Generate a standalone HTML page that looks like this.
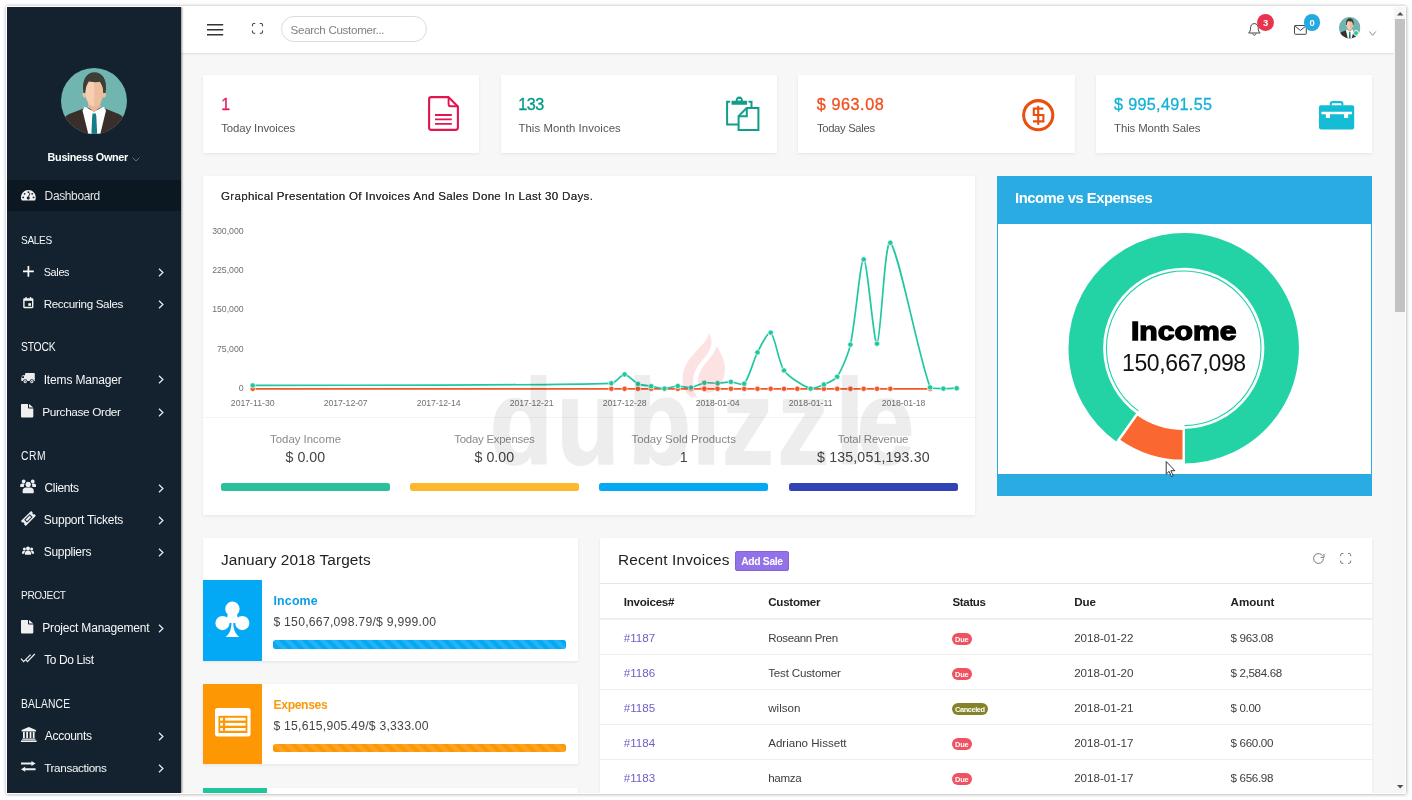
<!DOCTYPE html>
<html lang="en">
<head>
<meta charset="utf-8">
<title>Dashboard</title>
<style>
*{box-sizing:border-box;margin:0;padding:0}
html,body{width:1412px;height:800px;overflow:hidden;background:#fff}
body{font-family:"Liberation Sans",sans-serif;color:#333;position:relative}
#shadow{position:absolute;left:7px;top:7px;width:1398px;height:786px;box-shadow:0 0 0 1px #fff,0 .800px 3.500px 1.500px rgba(0,0,0,.38)}
#frame{position:absolute;left:7px;top:7px;width:1398px;height:786px;background:#f7f7f7;overflow:hidden;will-change:transform}
#o{position:absolute;left:-7px;top:-7px;width:1412px;height:800px}
.t{position:absolute;white-space:pre;display:block}
svg{position:absolute;overflow:visible}
.abs{position:absolute}
h1,h2,h3,h4,h5,h6,th{font-weight:400}
#side{position:absolute;left:7px;top:7px;width:174px;height:786px;background:#13222e;box-shadow:1px 0 2px rgba(0,0,0,.45);z-index:5}
#side .active{position:absolute;left:0;top:173.300px;width:174px;height:31.200px;background:#0c1821}
#top{position:absolute;left:181px;top:7px;width:1213px;height:46px;background:#fff;box-shadow:0 1px 2px rgba(0,0,0,.10);z-index:4}
#sb{position:absolute;left:1394px;top:7px;width:11px;height:786px;background:#f6f6f6;z-index:6}
#sb .thumb{position:absolute;left:1.200px;top:12px;width:9.600px;height:292.800px;background:#c2c2c2}
.card{position:absolute;background:#fff;box-shadow:0 1px 3px rgba(0,0,0,.08)}
</style>
</head>
<body>
<div id="shadow"></div>
<div id="frame"><div id="o">


<!-- SIDEBAR -->
<aside id="side"><div class="active"></div></aside>
<nav class="abs" style="left:0;top:0;z-index:6">

<svg style="left:61px;top:67.6px" width="66" height="66" viewBox="0 0 66 66">
 <defs><clipPath id="avc"><circle cx="33" cy="33" r="33"/></clipPath></defs>
 <g clip-path="url(#avc)">
  <rect width="66" height="66" fill="#70b5b0"/>
  <path d="M3 66V53C3 49 6 47 9.500 45.600L22.500 40.500H44L56.500 45.600C60 47 63 49 63 53V66z" fill="#3a2e2a"/>
  <path d="M23.500 38.800L33 43.500L42.800 38.800L45 42.500L39.300 66H27.300L21.500 42.500z" fill="#fdfdfd"/>
  <path d="M27 30h12.500v8.500L33 44.500L27 38.500z" fill="#e9b795"/>
  <path d="M22.500 24a2 3 0 1 0 3 3zM44 24a2 3 0 1 1-3 3z" fill="#ecc0a0"/>
  <path d="M22.500 25C20.800 12.500 25 4.500 33.500 4.500S46.300 12.500 44.500 25z" fill="#3d3e38"/>
  <ellipse cx="33.200" cy="24.600" rx="8.900" ry="13.600" fill="#f6cfb3"/>
  <path d="M33.200 11c4.900 0 8.900 6.100 8.900 13.600s-4 13.600-8.900 13.600z" fill="#eebd9d"/>
  <path d="M22.500 25C20.800 12.500 25 4.500 33.500 4.500S46.300 12.500 44.500 25C44 19.500 43 15.500 41 13.200C36 14.800 29.500 14.300 25.800 12.600C23.800 15.300 23 19.500 22.500 25z" fill="#3d3e38"/>
  <path d="M31.600 45.600h3.200l.5 2.600L36.200 66h-5.800l.8-17.800z" fill="#157f89"/>
 </g>
</svg>
<span class="t" style="left:47.60px;top:150.00px;font-size:10.83px;line-height:14px;color:#fff;font-weight:700;letter-spacing:-0.325px;">Business Owner</span>
<svg style="left:132.4px;top:156.6px" width="8" height="5" viewBox="0 0 8 5"><path d="M0.600 0.600L4 4L7.400 0.600" fill="none" stroke="#5f7486" stroke-width="1"/></svg>
<a><span class="t" style="left:44.60px;top:188.00px;font-size:11.97px;line-height:16px;color:#dfe4e8;letter-spacing:-0.359px;">Dashboard</span></a>
<a><span class="t" style="left:43.70px;top:265.00px;font-size:10.87px;line-height:14px;color:#f7f8f9;letter-spacing:-0.326px;">Sales</span></a><svg style="left:158.2px;top:267.6px" width="6" height="9" viewBox="0 0 6 9"><path d="M1 0.8 L4.9 4.5 L1 8.2" fill="none" stroke="#e8ecef" stroke-width="1.25"/></svg>
<a><span class="t" style="left:43.70px;top:296.00px;font-size:11.62px;line-height:15px;color:#f7f8f9;letter-spacing:-0.351px;">Reccuring Sales</span></a><svg style="left:158.2px;top:299.9px" width="6" height="9" viewBox="0 0 6 9"><path d="M1 0.8 L4.9 4.5 L1 8.2" fill="none" stroke="#e8ecef" stroke-width="1.25"/></svg>
<a><span class="t" style="left:43.70px;top:372.00px;font-size:12.0px;line-height:16px;color:#f7f8f9;letter-spacing:-0.162px;">Items Manager</span></a><svg style="left:158.2px;top:375.4px" width="6" height="9" viewBox="0 0 6 9"><path d="M1 0.8 L4.9 4.5 L1 8.2" fill="none" stroke="#e8ecef" stroke-width="1.25"/></svg>
<a><span class="t" style="left:42.30px;top:405.00px;font-size:11.8px;line-height:15px;color:#f7f8f9;letter-spacing:-0.353px;">Purchase Order</span></a><svg style="left:158.2px;top:407.5px" width="6" height="9" viewBox="0 0 6 9"><path d="M1 0.8 L4.9 4.5 L1 8.2" fill="none" stroke="#e8ecef" stroke-width="1.25"/></svg>
<a><span class="t" style="left:44.60px;top:480.00px;font-size:11.96px;line-height:16px;color:#f7f8f9;letter-spacing:-0.361px;">Clients</span></a><svg style="left:158.2px;top:483.5px" width="6" height="9" viewBox="0 0 6 9"><path d="M1 0.8 L4.9 4.5 L1 8.2" fill="none" stroke="#e8ecef" stroke-width="1.25"/></svg>
<a><span class="t" style="left:43.70px;top:512.00px;font-size:12.0px;line-height:16px;color:#f7f8f9;letter-spacing:-0.216px;">Support Tickets</span></a><svg style="left:158.2px;top:515.7px" width="6" height="9" viewBox="0 0 6 9"><path d="M1 0.8 L4.9 4.5 L1 8.2" fill="none" stroke="#e8ecef" stroke-width="1.25"/></svg>
<a><span class="t" style="left:43.70px;top:544.00px;font-size:12.0px;line-height:16px;color:#f7f8f9;letter-spacing:-0.291px;">Suppliers</span></a><svg style="left:158.2px;top:547.9px" width="6" height="9" viewBox="0 0 6 9"><path d="M1 0.8 L4.9 4.5 L1 8.2" fill="none" stroke="#e8ecef" stroke-width="1.25"/></svg>
<a><span class="t" style="left:42.30px;top:620.00px;font-size:12.0px;line-height:16px;color:#f7f8f9;letter-spacing:-0.202px;">Project Management</span></a><svg style="left:158.2px;top:623.5px" width="6" height="9" viewBox="0 0 6 9"><path d="M1 0.8 L4.9 4.5 L1 8.2" fill="none" stroke="#e8ecef" stroke-width="1.25"/></svg>
<a><span class="t" style="left:44.20px;top:652.00px;font-size:11.95px;line-height:16px;color:#f7f8f9;letter-spacing:-0.360px;">To Do List</span></a>
<a><span class="t" style="left:44.80px;top:728.00px;font-size:12.0px;line-height:16px;color:#f7f8f9;letter-spacing:-0.308px;">Accounts</span></a><svg style="left:158.2px;top:731.7px" width="6" height="9" viewBox="0 0 6 9"><path d="M1 0.8 L4.9 4.5 L1 8.2" fill="none" stroke="#e8ecef" stroke-width="1.25"/></svg>
<a><span class="t" style="left:44.20px;top:760.00px;font-size:11.7px;line-height:15px;color:#f7f8f9;letter-spacing:-0.349px;">Transactions</span></a><svg style="left:158.2px;top:763.7px" width="6" height="9" viewBox="0 0 6 9"><path d="M1 0.8 L4.9 4.5 L1 8.2" fill="none" stroke="#e8ecef" stroke-width="1.25"/></svg>
<h6 class="t" style="left:21.00px;top:232.00px;font-size:11.64px;line-height:15px;color:#f4f6f7;letter-spacing:-0.411px;transform:scaleX(0.87);transform-origin:0 50%;">SALES</h6>
<h6 class="t" style="left:21.00px;top:340.00px;font-size:11.9px;line-height:15px;color:#f4f6f7;letter-spacing:-0.245px;transform:scaleX(0.87);transform-origin:0 50%;">STOCK</h6>
<h6 class="t" style="left:21.00px;top:449.00px;font-size:11.9px;line-height:15px;color:#f4f6f7;letter-spacing:0.591px;transform:scaleX(0.87);transform-origin:0 50%;">CRM</h6>
<h6 class="t" style="left:21.00px;top:587.00px;font-size:11.61px;line-height:15px;color:#f4f6f7;letter-spacing:-0.404px;transform:scaleX(0.87);transform-origin:0 50%;">PROJECT</h6>
<h6 class="t" style="left:21.20px;top:697.00px;font-size:11.9px;line-height:15px;color:#f4f6f7;letter-spacing:0.154px;transform:scaleX(0.87);transform-origin:0 50%;">BALANCE</h6>

<!-- dashboard (tachometer) -->
<svg style="left:20.6px;top:190.3px" width="14.8" height="10.4" viewBox="0 0 148 104">
 <path d="M74 0C33 0 0 33 0 74c0 9 2 18 5 26c1 3 4 4 7 4h124c3 0 6-1 7-4c3-8 5-17 5-26C148 33 115 0 74 0z" fill="#f1f1f1"/>
 <g fill="#13202b"><circle cx="74" cy="22" r="9"/><circle cx="36" cy="38" r="9"/><circle cx="112" cy="38" r="9"/><circle cx="22" cy="74" r="9"/><circle cx="126" cy="74" r="9"/>
 <path d="M85 28l8 3l-12 36c6 4 8 11 6 17c-2 8-11 12-19 10c-8-3-12-11-10-19c2-7 8-11 15-11z"/></g>
</svg>
<!-- plus -->
<svg style="left:22.6px;top:265.6px" width="10.8" height="10.8" viewBox="0 0 108 108"><path d="M54 0v108M0 54h108" stroke="#fff" stroke-width="17" fill="none"/></svg>
<!-- calendar -->
<svg style="left:22.7px;top:297.3px" width="10.6" height="11.4" viewBox="0 0 106 114">
 <path d="M14 12h78c7 0 12 5 12 12v76c0 7-5 12-12 12H14c-7 0-12-5-12-12V24c0-7 5-12 12-12z" fill="#f4f4f4"/>
 <rect x="24" y="0" width="13" height="22" fill="#f4f4f4"/><rect x="69" y="0" width="13" height="22" fill="#f4f4f4"/>
 <rect x="16" y="38" width="74" height="60" fill="#13222e"/>
 <rect x="53" y="62" width="27" height="26" fill="#f4f4f4"/>
</svg>
<!-- truck -->
<svg style="left:21.200px;top:373.200px" width="14" height="10.600" viewBox="0 0 140 106">
 <g fill="#e9ebf0"><rect x="40" y="0" width="98" height="80" rx="5"/>
 <path d="M18 22h22v58H3V50c0-3 1-5 2-7l8-17c1-2 3-4 5-4z"/></g>
 <path d="M13 32h17v17H7z" fill="#13222e"/>
 <circle cx="42" cy="86" r="23" fill="#13222e"/><circle cx="108" cy="86" r="23" fill="#13222e"/>
 <circle cx="42" cy="86" r="16" fill="#e9ebf0"/><circle cx="108" cy="86" r="16" fill="#e9ebf0"/>
 <circle cx="42" cy="86" r="6" fill="#13222e"/><circle cx="108" cy="86" r="6" fill="#13222e"/>
</svg>
<!-- file (purchase order) -->
<svg style="left:20.9px;top:403.7px" width="12.3" height="13.4" viewBox="0 0 123 134"><path d="M8 0h62v38c0 5 3 8 8 8h45v80c0 5-3 8-8 8H8c-5 0-8-3-8-8V8c0-5 3-8 8-8z M80 0l43 36H84c-2 0-4-2-4-4z" fill="#f0f0f0"/></svg>
<!-- users -->
<svg style="left:20.400px;top:479px" width="16.200" height="14.200" viewBox="0 0 162 142">
 <g fill="#eceef2"><circle cx="37" cy="24" r="19"/><circle cx="127" cy="24" r="19"/>
 <path d="M2 80V66c0-12 8-20 20-20h14c4 0 8 1 11 3c-7 8-10 18-9 31z"/><path d="M160 80V66c0-12-8-20-20-20h-14c-4 0-8 1-11 3c7 8 10 18 9 31z"/></g>
 <circle cx="82" cy="54" r="33" fill="#13222e"/>
 <g fill="#eceef2"><circle cx="82" cy="54" r="26"/>
 <path d="M36 142c-6 0-10-4-10-10v-12c0-22 14-36 34-36h44c20 0 34 14 34 36v12c0 6-4 10-10 10z"/></g>
</svg>
<!-- ticket -->
<svg style="left:20.600px;top:511.200px" width="14.800" height="14.800" viewBox="0 0 148 148">
 <g transform="rotate(-45 74 74)"><path d="M2 40h144v24c-6 0-10 5-10 10s4 10 10 10v24H2V84c6 0 10-5 10-10s-4-10-10-10z" fill="#eceef2"/>
 <rect x="34" y="54" width="80" height="40" rx="4" fill="#13222e"/><rect x="44" y="63" width="60" height="22" fill="#eceef2"/></g>
</svg>
<!-- suppliers (small group) -->
<svg style="left:22px;top:546.2px" width="12" height="8.8" viewBox="0 0 120 88">
 <g fill="#f1f1f1"><circle cx="60" cy="24" r="20"/><circle cx="24" cy="30" r="15"/><circle cx="96" cy="30" r="15"/>
 <path d="M30 88V70c0-14 12-24 30-24s30 10 30 24v18z"/><path d="M0 78V66c0-10 8-18 24-18c3 0 6 0 8 1c-6 5-8 12-8 21v8z"/><path d="M120 78V66c0-10-8-18-24-18c-3 0-6 0-8 1c6 5 8 12 8 21v8z"/></g>
</svg>
<!-- file (project) -->
<svg style="left:20.9px;top:619.6px" width="12.3" height="13.4" viewBox="0 0 123 134"><path d="M8 0h62v38c0 5 3 8 8 8h45v80c0 5-3 8-8 8H8c-5 0-8-3-8-8V8c0-5 3-8 8-8z M80 0l43 36H84c-2 0-4-2-4-4z" fill="#f0f0f0"/></svg>
<!-- double check -->
<svg style="left:21.200px;top:654.400px" width="14" height="9.400" viewBox="0 0 140 94"><path d="M0 46L26 76L96 6M44 52L64 76L138 0" stroke="#eceef2" stroke-width="12" fill="none"/></svg>
<!-- bank -->
<svg style="left:20.8px;top:726.6px" width="15.6" height="15" viewBox="0 0 156 150">
 <g fill="#f1f1f1"><path d="M78 0L150 30v14H6V30z"/><rect x="20" y="50" width="18" height="62"/><rect x="52" y="50" width="18" height="62"/><rect x="86" y="50" width="18" height="62"/><rect x="118" y="50" width="18" height="62"/>
 <rect x="12" y="116" width="132" height="12"/><rect x="0" y="134" width="156" height="16"/></g>
</svg>
<!-- exchange -->
<svg style="left:20.800px;top:761.200px" width="14.600" height="10.800" viewBox="0 0 146 108"><g fill="#eceef2"><path d="M0 15h104V0l42 25l-42 25V35H0z"/><path d="M146 73H42V58L0 83l42 25V93h104z"/></g></svg>

</nav>


<!-- TOP BAR -->
<header id="top"></header>
<div class="abs" style="left:0;top:0;z-index:7">
<svg style="left:206.6px;top:23.9px" width="16.2" height="11.6" viewBox="0 0 162 116"><path d="M0 8h162M0 58h162M0 108h162" stroke="#333" stroke-width="14" fill="none"/></svg>
<svg style="left:252px;top:23px" width="11" height="10.8" viewBox="0 0 110 108"><path d="M5 32V17c0-7 5-12 12-12h15M78 5h15c7 0 12 5 12 12v15M105 76v15c0 7-5 12-12 12H78M32 103H17c-7 0-12-5-12-12V76" stroke="#444" stroke-width="11" fill="none"/></svg>
<div class="abs" style="left:280.500px;top:16.200px;width:146px;height:25.400px;border:1px solid #dcdcdc;border-radius:13px;background:#fff"></div>
<span class="t" style="left:290.60px;top:22.00px;font-size:11.6px;line-height:15px;color:#808080;letter-spacing:-0.308px;">Search Customer...</span>
<!-- bell -->
<svg style="left:1247.800px;top:23.200px" width="12.800" height="12.800" viewBox="0 0 128 128"><path d="M64 6c-24 0-38 18-38 42c0 28-8 42-20 52h116c-12-10-20-24-20-52c0-24-14-42-38-42z" fill="none" stroke="#444" stroke-width="10" stroke-linejoin="round"/><path d="M48 106c2 10 8 16 16 16s14-6 16-16" fill="none" stroke="#444" stroke-width="10"/></svg>
<div class="abs" style="left:1257.200px;top:14.200px;width:16.800px;height:16.800px;border-radius:50%;background:#e8344e"></div>
<span class="t" style="left:1262.99px;top:17.00px;font-size:9.4px;line-height:12px;color:#fff;font-weight:700;">3</span>
<!-- mail -->
<svg style="left:1294.300px;top:25.200px" width="12.800" height="9.800" viewBox="0 0 128 98"><rect x="5" y="5" width="118" height="88" rx="8" fill="none" stroke="#444" stroke-width="10"/><path d="M8 10l56 44l56-44" fill="none" stroke="#444" stroke-width="10"/></svg>
<div class="abs" style="left:1303.600px;top:14.200px;width:16.800px;height:16.800px;border-radius:50%;background:#25a9e0"></div>
<span class="t" style="left:1309.49px;top:17.00px;font-size:9.4px;line-height:12px;color:#fff;font-weight:700;">0</span>
<!-- small avatar -->
<svg style="left:1338.700px;top:17.100px" width="21.400" height="21.400" viewBox="0 0 66 66">
 <defs><clipPath id="avc2"><circle cx="33" cy="33" r="33"/></clipPath></defs>
 <g clip-path="url(#avc2)">
  <rect width="66" height="66" fill="#70b5b0"/>
  <path d="M3 66V53C3 49 6 47 9.500 45.600L22.500 40.500H44L56.500 45.600C60 47 63 49 63 53V66z" fill="#3a2e2a"/>
  <path d="M23.500 38.800L33 43.500L42.800 38.800L45 42.500L39.300 66H27.300L21.500 42.500z" fill="#fdfdfd"/>
  <path d="M27 30h12.500v8.500L33 44.500L27 38.500z" fill="#e9b795"/>
  <path d="M22.500 24a2 3 0 1 0 3 3zM44 24a2 3 0 1 1-3 3z" fill="#ecc0a0"/>
  <path d="M22.500 25C20.800 12.500 25 4.500 33.500 4.500S46.300 12.500 44.500 25z" fill="#3d3e38"/>
  <ellipse cx="33.200" cy="24.600" rx="8.900" ry="13.600" fill="#f6cfb3"/>
  <path d="M33.200 11c4.900 0 8.900 6.100 8.900 13.600s-4 13.600-8.900 13.600z" fill="#eebd9d"/>
  <path d="M22.500 25C20.800 12.500 25 4.500 33.500 4.500S46.300 12.500 44.500 25C44 19.500 43 15.500 41 13.200C36 14.800 29.500 14.300 25.800 12.600C23.800 15.300 23 19.500 22.500 25z" fill="#3d3e38"/>
  <path d="M31.600 45.600h3.200l.5 2.600L36.200 66h-5.800l.8-17.800z" fill="#157f89"/>
 </g>
</svg>
<div class="abs" style="left:1353.300px;top:30.400px;width:5.800px;height:5.800px;border-radius:50%;background:#2ecc8f;border:1.200px solid #fff"></div>
<svg style="left:1368.800px;top:31px" width="7.200" height="5" viewBox="0 0 72 50"><path d="M4 5l32 38l32-38" fill="none" stroke="#777" stroke-width="9"/></svg>
</div>
<!-- SCROLLBAR -->
<div id="sb"><div class="thumb"></div>
<svg style="left:2.500px;top:4.500px" width="6.400" height="3.600" viewBox="0 0 64 36"><path d="M0 36L32 0l32 36z" fill="#505050"/></svg>
<svg style="left:2.500px;top:777.500px" width="6.400" height="3.600" viewBox="0 0 64 36"><path d="M0 0l32 36L64 0z" fill="#505050"/></svg>
</div>


<!-- STAT CARDS -->
<main class="abs" style="left:0;top:0;z-index:1">
<section class="card" style="left:203.0px;top:75.200px;width:276.0px;height:77.600px"></section><section class="card" style="left:501.0px;top:75.200px;width:276.0px;height:77.600px"></section><section class="card" style="left:798.0px;top:75.200px;width:276.8px;height:77.600px"></section><section class="card" style="left:1096.0px;top:75.200px;width:276.3px;height:77.600px"></section>
<span class="t" style="left:221.30px;top:94.00px;font-size:15.8px;line-height:21px;color:#e5195f;-webkit-text-stroke:.300px;">1</span><span class="t" style="left:221.20px;top:121.00px;font-size:11.4px;line-height:15px;color:#555;letter-spacing:-0.105px;">Today Invoices</span>
<svg style="left:428.400px;top:96px" width="31" height="35" viewBox="0 0 310 350">
 <path d="M32 11h172l95 95v206c0 15-10 27-24 27H32c-12 0-21-9-21-21V32c0-12 9-21 21-21z" fill="none" stroke="#e2154f" stroke-width="21" stroke-linejoin="round"/>
 <path d="M206 13v70c0 12 8 20 20 20h70" fill="none" stroke="#e2154f" stroke-width="19"/>
 <path d="M70 190h168M70 234h168M70 278h168" stroke="#e2154f" stroke-width="18" fill="none"/>
</svg>
<span class="t" style="left:518.30px;top:94.00px;font-size:16.17px;line-height:21px;color:#009a89;letter-spacing:-0.483px;-webkit-text-stroke:.300px;">133</span><span class="t" style="left:518.40px;top:121.00px;font-size:11.4px;line-height:15px;color:#555;letter-spacing:0.061px;">This Month Invoices</span>
<svg style="left:725.500px;top:96px" width="34" height="35.400" viewBox="0 0 340 354">
 <g fill="none" stroke="#109e88" stroke-width="20">
 <path d="M41 58H11v226h112M225 58h30v60"/>
 <path d="M126 339V201L206 121H324V339z"/>
 <path d="M126 203H208V121"/>
 </g>
 <path d="M55 48h42c0-26 14-42 36-42s36 16 36 42h42v40H55z" fill="#109e88"/>
 <rect x="117" y="30" width="32" height="14" rx="5" fill="#fff"/>
</svg>
<span class="t" style="left:816.80px;top:94.00px;font-size:16.2px;line-height:21px;color:#f0501e;letter-spacing:0.555px;-webkit-text-stroke:.300px;">$ 963.08</span><span class="t" style="left:816.90px;top:121.00px;font-size:11.31px;line-height:15px;color:#555;letter-spacing:-0.337px;">Today Sales</span>
<svg style="left:1021.900px;top:98.500px" width="32.400" height="32.400" viewBox="0 0 324 324">
 <circle cx="162" cy="162" r="146" fill="none" stroke="#e9500f" stroke-width="31"/>
 <path d="M214 96H118v64h96v64H110" fill="none" stroke="#e9500f" stroke-width="21"/>
 <path d="M162 68v190" stroke="#e9500f" stroke-width="21"/>
</svg>
<span class="t" style="left:1114.00px;top:94.00px;font-size:16.2px;line-height:21px;color:#14b1d8;letter-spacing:0.315px;-webkit-text-stroke:.300px;">$ 995,491.55</span><span class="t" style="left:1114.10px;top:121.00px;font-size:11.4px;line-height:15px;color:#555;letter-spacing:-0.113px;">This Month Sales</span>
<svg style="left:1319px;top:100.600px" width="35.200" height="28.400" viewBox="0 0 352 284">
 <path d="M118 44V28c0-10 7-17 17-17h82c10 0 17 7 17 17v16" fill="none" stroke="#14bcd6" stroke-width="21"/>
 <rect x="0" y="42" width="352" height="242" rx="18" fill="#14bcd6"/>
 <path d="M24 108h306v25h-38v37h-41v-37H110v37H69v-37H24z" fill="#fff"/>
</svg>
</main>


<!-- CHART CARD -->
<section class="abs" style="left:0;top:0;z-index:1">
<div class="card" style="left:203px;top:176px;width:772px;height:339.400px"></div>
<h4 class="t" style="left:221.00px;top:188.00px;font-size:11.6px;line-height:15px;color:#333;letter-spacing:0.298px;text-shadow:0 0 .3px #333;">Graphical Presentation Of Invoices And Sales Done In Last 30 Days.</h4><span class="t" style="left:212.19px;top:226.00px;font-size:8.7px;line-height:11px;color:#707070;">300,000</span><span class="t" style="left:212.19px;top:265.00px;font-size:8.7px;line-height:11px;color:#707070;">225,000</span><span class="t" style="left:212.19px;top:304.00px;font-size:8.7px;line-height:11px;color:#707070;">150,000</span><span class="t" style="left:217.02px;top:344.00px;font-size:8.7px;line-height:11px;color:#707070;">75,000</span><span class="t" style="left:238.76px;top:383.00px;font-size:8.7px;line-height:11px;color:#707070;">0</span><span class="t" style="left:230.80px;top:398.00px;font-size:8.7px;line-height:11px;color:#707070;">2017-11-30</span><span class="t" style="left:323.78px;top:398.00px;font-size:8.7px;line-height:11px;color:#707070;letter-spacing:-0.073px;">2017-12-07</span><span class="t" style="left:416.76px;top:398.00px;font-size:8.7px;line-height:11px;color:#707070;letter-spacing:-0.073px;">2017-12-14</span><span class="t" style="left:509.74px;top:398.00px;font-size:8.7px;line-height:11px;color:#707070;letter-spacing:-0.073px;">2017-12-21</span><span class="t" style="left:602.72px;top:398.00px;font-size:8.7px;line-height:11px;color:#707070;letter-spacing:-0.073px;">2017-12-28</span><span class="t" style="left:695.71px;top:398.00px;font-size:8.7px;line-height:11px;color:#707070;letter-spacing:-0.073px;">2018-01-04</span><span class="t" style="left:788.69px;top:398.00px;font-size:8.7px;line-height:11px;color:#707070;">2018-01-11</span><span class="t" style="left:881.67px;top:398.00px;font-size:8.7px;line-height:11px;color:#707070;letter-spacing:-0.073px;">2018-01-18</span>
<div class="abs" style="left:203px;top:416.800px;width:772px;height:1px;background:#f3f3f3"></div>
<svg style="left:0;top:0" width="1412" height="800" viewBox="0 0 1412 800"><path d="M252.7 388.8C345.9 388.8 518.1 388.8 611.3 388.8C614.8 388.8 621.2 388.8 624.6 388.8C628.1 388.8 634.5 388.8 637.9 388.8C641.4 388.8 647.7 388.8 651.2 388.8C654.6 388.8 661.0 388.8 664.5 388.8C667.9 388.8 674.3 388.8 677.8 388.8C681.2 388.8 687.6 388.8 691.0 388.8C694.5 388.8 700.9 388.8 704.3 388.8C707.8 388.8 714.2 388.8 717.6 388.8C721.1 388.8 727.4 388.8 730.9 388.8C734.3 388.8 740.7 388.8 744.2 388.8C747.6 388.8 754.0 388.8 757.5 388.8C760.9 388.8 767.3 388.8 770.7 388.8C774.2 388.8 780.6 388.8 784.0 388.8C787.5 388.8 793.8 388.8 797.3 388.8C800.8 388.8 807.1 388.8 810.6 388.8C814.0 388.8 820.4 388.8 823.9 388.8C827.3 388.8 833.7 388.8 837.2 388.8C840.6 388.8 847.0 388.8 850.4 388.8C853.9 388.8 860.3 388.8 863.7 388.8C867.2 388.8 873.5 388.8 877.0 388.8C880.5 388.8 886.8 388.8 890.3 388.8C900.6 388.8 919.8 388.8 930.1 388.8" fill="none" stroke="#f1592a" stroke-width="1.700"/><g fill="#f1592a" stroke="#fff" stroke-width=".700"><circle cx="252.7" cy="388.8" r="2.700"/><circle cx="611.3" cy="388.8" r="2.700"/><circle cx="624.6" cy="388.8" r="2.700"/><circle cx="637.9" cy="388.8" r="2.700"/><circle cx="651.2" cy="388.8" r="2.700"/><circle cx="664.5" cy="388.8" r="2.700"/><circle cx="677.8" cy="388.8" r="2.700"/><circle cx="691.0" cy="388.8" r="2.700"/><circle cx="704.3" cy="388.8" r="2.700"/><circle cx="717.6" cy="388.8" r="2.700"/><circle cx="730.9" cy="388.8" r="2.700"/><circle cx="744.2" cy="388.8" r="2.700"/><circle cx="757.5" cy="388.8" r="2.700"/><circle cx="770.7" cy="388.8" r="2.700"/><circle cx="784.0" cy="388.8" r="2.700"/><circle cx="797.3" cy="388.8" r="2.700"/><circle cx="810.6" cy="388.8" r="2.700"/><circle cx="823.9" cy="388.8" r="2.700"/><circle cx="837.2" cy="388.8" r="2.700"/><circle cx="850.4" cy="388.8" r="2.700"/><circle cx="863.7" cy="388.8" r="2.700"/><circle cx="877.0" cy="388.8" r="2.700"/><circle cx="890.3" cy="388.8" r="2.700"/><circle cx="930.1" cy="388.8" r="2.700"/></g><path d="M252.7 385.4C345.9 384.9 518.8 386.0 611.3 383.3C615.5 383.2 621.2 374.3 624.6 374.4C628.1 374.5 634.1 382.2 637.9 383.9C641.0 385.3 647.7 385.6 651.2 386.2C654.6 386.8 661.0 388.6 664.5 388.6C667.9 388.6 674.3 386.1 677.8 386.0C681.2 385.9 687.7 388.0 691.0 387.6C694.6 387.2 700.8 383.4 704.3 382.8C707.7 382.3 714.2 383.4 717.6 383.3C721.1 383.2 727.4 381.8 730.9 381.9C734.3 382.0 742.2 385.9 744.2 383.7C749.1 378.2 753.4 360.2 757.5 352.4C760.3 346.9 768.2 330.9 770.7 332.6C775.1 335.5 778.3 362.3 784.0 370.4C788.6 376.9 803.3 386.0 810.6 388.6C813.7 388.8 820.6 386.0 823.9 384.5C827.5 382.9 835.0 379.9 837.2 376.7C841.9 369.5 848.5 353.4 850.4 344.6C855.4 322.9 860.2 259.5 863.7 259.4C867.2 259.3 873.9 345.7 877.0 343.7C880.8 341.4 884.7 238.2 890.3 242.8C898.5 249.6 917.4 352.6 930.1 387.4C931.3 388.8 940.0 388.5 943.4 388.6C946.9 388.7 953.2 388.3 956.7 388.2" fill="none" stroke="#1fc8a0" stroke-width="1.700"/><g fill="#1fc8a0" stroke="#fff" stroke-width=".700"><circle cx="252.7" cy="385.4" r="2.700"/><circle cx="611.3" cy="383.3" r="2.700"/><circle cx="624.6" cy="374.4" r="2.700"/><circle cx="637.9" cy="383.9" r="2.700"/><circle cx="651.2" cy="386.2" r="2.700"/><circle cx="664.5" cy="388.6" r="2.700"/><circle cx="677.8" cy="386.0" r="2.700"/><circle cx="691.0" cy="387.6" r="2.700"/><circle cx="704.3" cy="382.8" r="2.700"/><circle cx="717.6" cy="383.3" r="2.700"/><circle cx="730.9" cy="381.9" r="2.700"/><circle cx="744.2" cy="383.7" r="2.700"/><circle cx="757.5" cy="352.4" r="2.700"/><circle cx="770.7" cy="332.6" r="2.700"/><circle cx="784.0" cy="370.4" r="2.700"/><circle cx="810.6" cy="388.6" r="2.700"/><circle cx="823.9" cy="384.5" r="2.700"/><circle cx="837.2" cy="376.7" r="2.700"/><circle cx="850.4" cy="344.6" r="2.700"/><circle cx="863.7" cy="259.4" r="2.700"/><circle cx="877.0" cy="343.7" r="2.700"/><circle cx="890.3" cy="242.8" r="2.700"/><circle cx="930.1" cy="387.4" r="2.700"/><circle cx="943.4" cy="388.6" r="2.700"/><circle cx="956.7" cy="388.2" r="2.700"/></g></svg><span class="t" style="left:270.00px;top:432.00px;font-size:11.4px;line-height:15px;color:#8a8a8a;letter-spacing:0.007px;">Today Income</span><span class="t" style="left:285.50px;top:448.00px;font-size:14.2px;line-height:18px;color:#444;letter-spacing:0.049px;">$ 0.00</span><div class="abs" style="left:221.0px;top:482.800px;width:169.200px;height:8.400px;border-radius:2.500px;background:#2bc09c"></div><span class="t" style="left:454.30px;top:432.00px;font-size:11.4px;line-height:15px;color:#8a8a8a;letter-spacing:-0.238px;">Today Expenses</span><span class="t" style="left:474.50px;top:448.00px;font-size:14.2px;line-height:18px;color:#444;letter-spacing:0.049px;">$ 0.00</span><div class="abs" style="left:410.2px;top:482.800px;width:169.200px;height:8.400px;border-radius:2.500px;background:#fcb92f"></div><span class="t" style="left:631.50px;top:432.00px;font-size:11.4px;line-height:15px;color:#8a8a8a;">Today Sold Products</span><span class="t" style="left:679.75px;top:448.00px;font-size:14.2px;line-height:18px;color:#444;">1</span><div class="abs" style="left:599.3px;top:482.800px;width:169.200px;height:8.400px;border-radius:2.500px;background:#03a9f4"></div><span class="t" style="left:837.70px;top:432.00px;font-size:11.4px;line-height:15px;color:#8a8a8a;letter-spacing:-0.177px;">Total Revenue</span><span class="t" style="left:817.10px;top:448.00px;font-size:14.2px;line-height:18px;color:#444;letter-spacing:0.136px;">$ 135,051,193.30</span><div class="abs" style="left:788.8px;top:482.800px;width:169.200px;height:8.400px;border-radius:2.500px;background:#3243b6"></div>
</section>


<!-- DONUT PANEL -->
<section class="abs" style="left:0;top:0;z-index:1">
<div class="abs" style="left:996.600px;top:175.800px;width:375.800px;height:320.500px;background:#fff;border:1px solid #2aace3"></div>
<div class="abs" style="left:996.600px;top:175.800px;width:375.800px;height:48.400px;background:#2aace3"></div>
<div class="abs" style="left:996.600px;top:474.200px;width:375.800px;height:22.100px;background:#2aace3"></div>
<h3 class="t" style="left:1015.00px;top:189.00px;font-size:14.8px;line-height:19px;color:#fff;font-weight:700;letter-spacing:-0.469px;">Income vs Expenses</h3><svg style="left:0;top:0" width="1412" height="800" viewBox="0 0 1412 800"><path d="M1116.44 443.30 A116.40 116.40 0 1 1 1183.70 464.70 L1183.70 427.70 A79.40 79.40 0 1 0 1137.82 413.10 Z" fill="#23d3a5" stroke="#fff" stroke-width="2.400" stroke-linejoin="miter"/><path d="M1183.70 460.80 A112.50 112.50 0 0 1 1118.69 440.12 L1137.18 414.00 A80.50 80.50 0 0 0 1183.70 428.80 Z" fill="#fb6730" stroke="#fff" stroke-width="2.400"/><path d="M1138.37 410.92 A77.30 77.30 0 1 1 1184.51 425.60" fill="none" stroke="#23d3a5" stroke-width="1.100"/><path d="M1166.200 461.500v12.600l2.900-2.700l2.300 5.200l1.800-.800l-2.300-5.100h4z" fill="#fff" stroke="#222" stroke-width=".900" stroke-linejoin="round"/></svg>
<span class="t" style="left:1131.40px;top:315.00px;font-size:25.0px;line-height:32px;color:#000;font-weight:700;-webkit-text-stroke:1.300px #000;transform:scaleX(1.205);transform-origin:0 50%;">Income</span>
<span class="t" style="left:1122.00px;top:348.00px;font-size:23.0px;line-height:30px;color:#111;letter-spacing:-0.381px;">150,667,098</span>
</section>


<!-- TARGETS -->
<section class="abs" style="left:0;top:0;z-index:1">
<div class="card" style="left:203.400px;top:538.400px;width:374.600px;height:122.300px"></div>
<h3 class="t" style="left:221.00px;top:550.00px;font-size:15.4px;line-height:20px;color:#222;letter-spacing:0.097px;">January 2018 Targets</h3>
<div class="abs" style="left:203.400px;top:580.400px;width:58.200px;height:80.200px;background:#03a9f4"></div>
<svg style="left:215px;top:601px" width="35" height="37" viewBox="0 0 350 370">
 <g fill="#fff"><circle cx="174" cy="78" r="72"/><circle cx="75" cy="221" r="71"/><circle cx="273" cy="221" r="71"/>
 <path d="M130 120h88l20 100h-128z"/><path d="M166 200c0 80-20 130-60 160h136c-40-30-60-80-60-160z"/></g>
</svg>
<h5 class="t" style="left:273.50px;top:593.00px;font-size:12.4px;line-height:16px;color:#0a9fe6;font-weight:700;letter-spacing:0.162px;">Income</h5><span class="t" style="left:273.40px;top:614.00px;font-size:12.2px;line-height:16px;color:#444;letter-spacing:0.259px;">$ 150,667,098.79/$ 9,999.00</span>
<div class="abs" style="left:273.300px;top:640.300px;width:293px;height:8.400px;border-radius:2.500px;background-color:#03a9f4;background-image:linear-gradient(45deg,rgba(255,255,255,.13) 25%,transparent 25%,transparent 50%,rgba(255,255,255,.13) 50%,rgba(255,255,255,.13) 75%,transparent 75%,transparent);background-size:11.700px 11.700px;"></div>

<div class="card" style="left:203.400px;top:683.800px;width:374.600px;height:80px"></div>
<div class="abs" style="left:203.400px;top:683.800px;width:58.200px;height:80px;background:#fd9704"></div>
<svg style="left:214.500px;top:708.400px" width="35.600" height="28.400" viewBox="0 0 356 284">
 <rect x="0" y="0" width="356" height="284" rx="26" fill="#fff"/>
 <rect x="34" y="78" width="290" height="172" fill="#fd9704"/>
 <g fill="#fff"><rect x="52" y="98" width="28" height="28"/><rect x="102" y="98" width="204" height="28"/>
 <rect x="52" y="149" width="28" height="28"/><rect x="102" y="149" width="204" height="28"/>
 <rect x="52" y="200" width="28" height="28"/><rect x="102" y="200" width="204" height="28"/></g>
</svg>
<h5 class="t" style="left:273.50px;top:697.00px;font-size:12.16px;line-height:16px;color:#f79a0c;font-weight:700;letter-spacing:-0.363px;">Expenses</h5><span class="t" style="left:273.40px;top:718.00px;font-size:12.2px;line-height:16px;color:#444;letter-spacing:0.244px;">$ 15,615,905.49/$ 3,333.00</span>
<div class="abs" style="left:273.300px;top:743.600px;width:293px;height:8.400px;border-radius:2.500px;background-color:#fd9704;background-image:linear-gradient(45deg,rgba(255,255,255,.13) 25%,transparent 25%,transparent 50%,rgba(255,255,255,.13) 50%,rgba(255,255,255,.13) 75%,transparent 75%,transparent);background-size:11.700px 11.700px;"></div>

<div class="card" style="left:203.400px;top:787.600px;width:374.600px;height:80px"></div>
<div class="abs" style="left:203.400px;top:787.600px;width:63.300px;height:80px;background:#1fc59b"></div>
</section>


<!-- RECENT INVOICES -->
<section class="abs" style="left:0;top:0;z-index:1">
<div class="card" style="left:600px;top:538.400px;width:772.200px;height:300px"></div>
<h3 class="t" style="left:618.00px;top:550.00px;font-size:15.4px;line-height:20px;color:#222;letter-spacing:0.142px;">Recent Invoices</h3>
<div class="abs" style="left:735.100px;top:551.100px;width:54px;height:19.700px;border-radius:2px;background:#9372e8;border:1px solid #8463dc"></div>
<span class="t" style="left:741.20px;top:555.00px;font-size:10.3px;line-height:13px;color:#fff;font-weight:700;letter-spacing:-0.309px;">Add Sale</span>
<svg style="left:1312.600px;top:552.600px" width="11.600" height="11" viewBox="0 0 116 110"><path d="M104 55c0 27-22 49-49 49S6 82 6 55S28 6 55 6c17 0 32 8 41 21" fill="none" stroke="#666" stroke-width="9"/><path d="M110 8v36H76" fill="none" stroke="#666" stroke-width="9"/></svg>
<svg style="left:1339.700px;top:553px" width="11.300" height="10.800" viewBox="0 0 110 108"><path d="M5 32V17c0-7 5-12 12-12h15M78 5h15c7 0 12 5 12 12v15M105 76v15c0 7-5 12-12 12H78M32 103H17c-7 0-12-5-12-12V76" stroke="#666" stroke-width="9" fill="none"/></svg>
<div class="abs" style="left:600px;top:582.800px;width:772px;height:1px;background:#e4e7ea"></div>
<strong class="t" style="left:623.70px;top:594.00px;font-size:11.6px;line-height:15px;color:#222;font-weight:700;letter-spacing:-0.257px;">Invoices#</strong><strong class="t" style="left:768.20px;top:594.00px;font-size:11.6px;line-height:15px;color:#222;font-weight:700;letter-spacing:-0.246px;">Customer</strong><strong class="t" style="left:952.50px;top:595.00px;font-size:11.53px;line-height:15px;color:#222;font-weight:700;letter-spacing:-0.345px;">Status</strong><strong class="t" style="left:1074.20px;top:594.00px;font-size:11.6px;line-height:15px;color:#222;font-weight:700;letter-spacing:-0.103px;">Due</strong><strong class="t" style="left:1230.50px;top:594.00px;font-size:11.6px;line-height:15px;color:#222;font-weight:700;letter-spacing:0.021px;">Amount</strong>
<div class="abs" style="left:600px;top:618.300px;width:772px;height:2.200px;background:#ebeef2"></div>
<div role="row"><span class="t" style="left:623.70px;top:630.00px;font-size:11.6px;line-height:15px;color:#6c5fc7;letter-spacing:0.027px;">#1187</span><span class="t" style="left:768.20px;top:631.00px;font-size:11.53px;line-height:15px;color:#3d3d3d;letter-spacing:-0.343px;">Roseann Pren</span><span class="abs" style="left:951.900px;top:632.5px;width:20px;height:12.600px;border-radius:6.300px;background:#ef5261"></span><span class="t" style="left:955.00px;top:635.00px;font-size:7.4px;line-height:10px;color:#fff;font-weight:700;letter-spacing:-0.184px;">Due</span><span class="t" style="left:1074.20px;top:630.00px;font-size:11.6px;line-height:15px;color:#3d3d3d;letter-spacing:-0.012px;">2018-01-22</span><span class="t" style="left:1230.50px;top:630.00px;font-size:11.6px;line-height:15px;color:#3d3d3d;letter-spacing:-0.320px;">$ 963.08</span></div>
<div class="abs" style="left:600px;top:654.0px;width:772px;height:1px;background:#eeeeee"></div>
<div role="row"><span class="t" style="left:623.70px;top:665.00px;font-size:11.6px;line-height:15px;color:#6c5fc7;letter-spacing:0.027px;">#1186</span><span class="t" style="left:768.20px;top:665.00px;font-size:11.6px;line-height:15px;color:#3d3d3d;letter-spacing:-0.179px;">Test Customer</span><span class="abs" style="left:951.900px;top:667.5px;width:20px;height:12.600px;border-radius:6.300px;background:#ef5261"></span><span class="t" style="left:955.00px;top:670.00px;font-size:7.4px;line-height:10px;color:#fff;font-weight:700;letter-spacing:-0.184px;">Due</span><span class="t" style="left:1074.20px;top:665.00px;font-size:11.6px;line-height:15px;color:#3d3d3d;letter-spacing:-0.012px;">2018-01-20</span><span class="t" style="left:1230.50px;top:665.00px;font-size:11.6px;line-height:15px;color:#3d3d3d;letter-spacing:-0.346px;">$ 2,584.68</span></div>
<div class="abs" style="left:600px;top:689.0px;width:772px;height:1px;background:#eeeeee"></div>
<div role="row"><span class="t" style="left:623.70px;top:700.00px;font-size:11.6px;line-height:15px;color:#6c5fc7;letter-spacing:0.027px;">#1185</span><span class="t" style="left:768.20px;top:700.00px;font-size:11.6px;line-height:15px;color:#3d3d3d;">wilson</span><span class="abs" style="left:951.900px;top:702.5px;width:36px;height:12.600px;border-radius:6.300px;background:#84832a"></span><span class="t" style="left:955.00px;top:705.00px;font-size:7.4px;line-height:10px;color:#fff;font-weight:700;letter-spacing:-0.411px;">Canceled</span><span class="t" style="left:1074.20px;top:700.00px;font-size:11.6px;line-height:15px;color:#3d3d3d;letter-spacing:-0.012px;">2018-01-21</span><span class="t" style="left:1230.50px;top:701.00px;font-size:11.56px;line-height:15px;color:#3d3d3d;letter-spacing:-0.345px;">$ 0.00</span></div>
<div class="abs" style="left:600px;top:724.0px;width:772px;height:1px;background:#eeeeee"></div>
<div role="row"><span class="t" style="left:623.70px;top:735.00px;font-size:11.6px;line-height:15px;color:#6c5fc7;letter-spacing:0.027px;">#1184</span><span class="t" style="left:768.20px;top:735.00px;font-size:11.6px;line-height:15px;color:#3d3d3d;letter-spacing:-0.016px;">Adriano Hissett</span><span class="abs" style="left:951.900px;top:737.5px;width:20px;height:12.600px;border-radius:6.300px;background:#ef5261"></span><span class="t" style="left:955.00px;top:740.00px;font-size:7.4px;line-height:10px;color:#fff;font-weight:700;letter-spacing:-0.184px;">Due</span><span class="t" style="left:1074.20px;top:735.00px;font-size:11.6px;line-height:15px;color:#3d3d3d;letter-spacing:-0.012px;">2018-01-17</span><span class="t" style="left:1230.50px;top:735.00px;font-size:11.6px;line-height:15px;color:#3d3d3d;letter-spacing:-0.320px;">$ 660.00</span></div>
<div class="abs" style="left:600px;top:759.0px;width:772px;height:1px;background:#eeeeee"></div>
<div role="row"><span class="t" style="left:623.70px;top:770.00px;font-size:11.6px;line-height:15px;color:#6c5fc7;letter-spacing:0.027px;">#1183</span><span class="t" style="left:768.20px;top:770.00px;font-size:11.6px;line-height:15px;color:#3d3d3d;letter-spacing:-0.328px;">hamza</span><span class="abs" style="left:951.900px;top:772.5px;width:20px;height:12.600px;border-radius:6.300px;background:#ef5261"></span><span class="t" style="left:955.00px;top:775.00px;font-size:7.4px;line-height:10px;color:#fff;font-weight:700;letter-spacing:-0.184px;">Due</span><span class="t" style="left:1074.20px;top:770.00px;font-size:11.6px;line-height:15px;color:#3d3d3d;letter-spacing:-0.012px;">2018-01-17</span><span class="t" style="left:1230.50px;top:770.00px;font-size:11.6px;line-height:15px;color:#3d3d3d;letter-spacing:-0.320px;">$ 656.98</span></div>

</section>


<!-- WATERMARK -->
<svg style="left:0;top:0;z-index:8;pointer-events:none" width="1412" height="800" viewBox="0 0 1412 800" aria-hidden="false">
 <defs><mask id="wmm" maskUnits="userSpaceOnUse" x="0" y="0" width="1412" height="800"><rect width="1412" height="800" fill="#fff"/><rect x="690" y="355" width="37" height="43" fill="#000"/></mask></defs>
 <g opacity=".066" mask="url(#wmm)"><text y="464" font-family="Liberation Sans, sans-serif" font-weight="700" font-size="120" fill="#000" stroke="#000" stroke-width="2" stroke-linejoin="round" transform="scale(.86 1)" x="569.5 647.2 730.1 804.6 839.6 904.1 971.6 996.2">dubizzle</text></g>
 <g opacity=".11" fill="#e8000b">
  <path d="M709 333c3 8 1 15-5 22c-8 9-14 15-15 26c-1 8 2 14 6 18c-8-3-13-10-12-21c1-11 8-18 15-26c6-7 10-12 11-19z"/>
  <path d="M709 333c5 9 2 17-4 24c-7 8-12 15-12 25c0 7 2 12 5 16l-6-2c-7-5-11-12-9-22c2-11 8-17 15-25c6-6 10-10 11-16z"/>
  <path d="M717 346c4 8 8 14 8 23c0 9-4 17-11 22c-5 3-10 2-13-1c-4-5-4-13 0-20c4-8 12-13 16-24z"/>
 </g>
</svg>


</div></div>
</body>
</html>
